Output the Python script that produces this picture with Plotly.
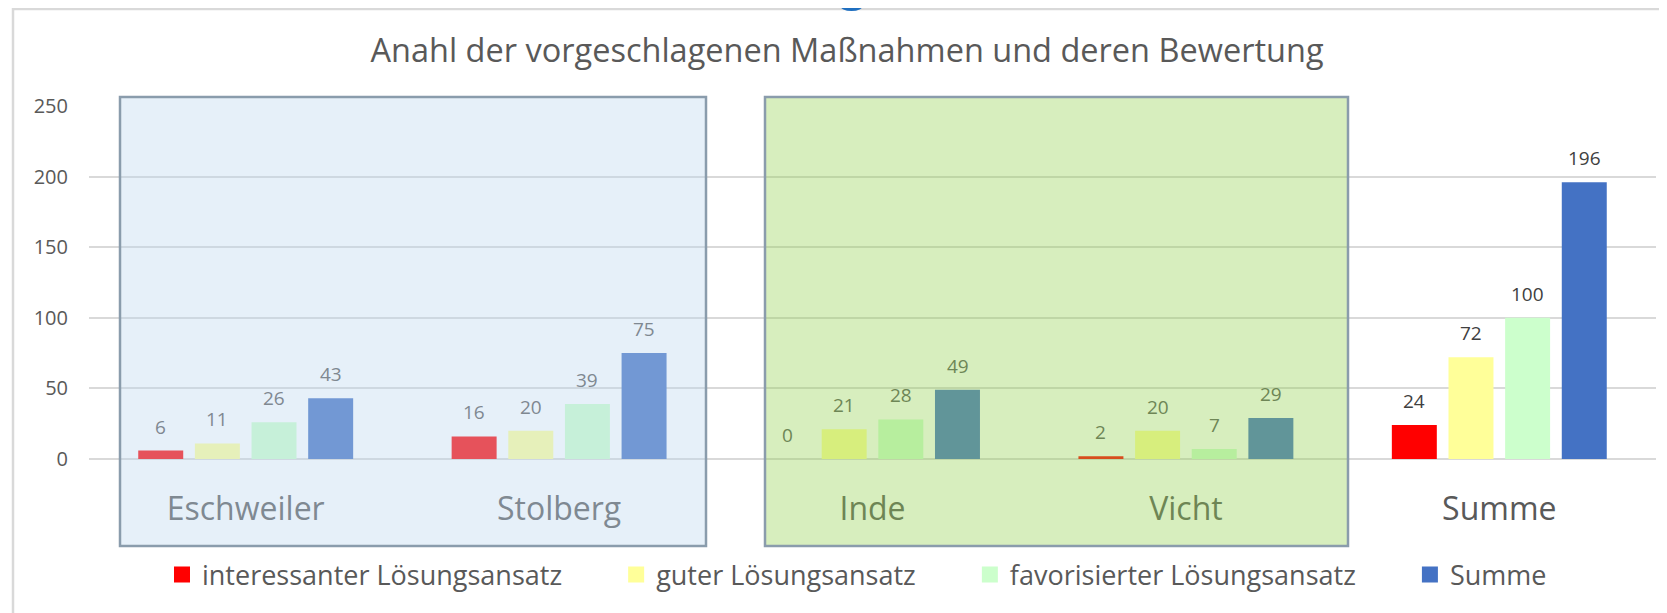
import plotly.graph_objects as go

categories = ["Eschweiler", "Stolberg", "Inde", "Vicht", "Summe"]
interessant = [6, 16, 0, 2, 24]
gut = [11, 20, 21, 20, 72]
favorisiert = [26, 39, 28, 7, 100]
summe = [43, 75, 49, 29, 196]

series_names = ["interessanter Lösungsansatz", "guter Lösungsansatz",
                "favorisierter Lösungsansatz", "Summe"]
series_values = [interessant, gut, favorisiert, summe]
series_colors = ["#FF0000", "#FFFF99", "#CCFFCC", "#4472C4"]

FONT = "Open Sans"
OFF = 8  # page offset of the figure (body margin)
W, H = 1659, 605
L, R, T, B = 81, 11, 98, 154
PW = W - L - R
PH = H - T - B

def px_x(p):
    return (p - OFF - L) / PW

def px_y(p):
    return (H - B - (p - OFF)) / PH

fig = go.Figure()
for name, vals, col in zip(series_names, series_values, series_colors):
    fig.add_trace(go.Bar(x=categories, y=vals, name=name, marker_color=col,
                         marker_line_width=0, hoverinfo="x+y", showlegend=False))
# legend entries with larger swatches
pads = [7, 7, 7, 0]
for name, col, pad in zip(series_names, series_colors, pads):
    fig.add_trace(go.Scatter(x=[None], y=[None], mode="markers",
                             name=name + "\u00a0" * pad,
                             marker=dict(symbol="square", size=16, color=col),
                             hoverinfo="skip"))

# data labels (tinted manually where boxes overlay them)
slot = 56.7
label_colors = {0: "#7F8891", 1: "#7F8891", 2: "#6E8656", 3: "#6E8656", 4: "#404040"}
for k, vals in enumerate(series_values):
    for i, v in enumerate(vals):
        fig.add_annotation(x=categories[i], y=v, xref="x", yref="y",
                           text=str(v), showarrow=False,
                           xshift=(k - 1.5) * slot, yshift=24, yanchor="middle",
                           font=dict(family=FONT, size=19, color=label_colors[i]))

# overlay boxes
fig.add_shape(type="rect", xref="paper", yref="paper",
              x0=px_x(120), x1=px_x(706), y0=px_y(546), y1=px_y(97),
              fillcolor="rgba(189,215,238,0.38)", line=dict(color="#8A9CAC", width=2.5),
              layer="above")
fig.add_shape(type="rect", xref="paper", yref="paper",
              x0=px_x(765), x1=px_x(1348), y0=px_y(546), y1=px_y(97),
              fillcolor="rgba(146,208,80,0.37)", line=dict(color="#8A9CAC", width=2.5),
              layer="above")
# outer chart border
fig.add_shape(type="rect", xref="paper", yref="paper",
              x0=px_x(13), x1=px_x(1690), y0=px_y(640), y1=px_y(9),
              fillcolor="rgba(0,0,0,0)", line=dict(color="#D9D9D9", width=2.5),
              layer="below")
# cut-off blue glyph from a heading above the chart
fig.add_shape(type="circle", xref="paper", yref="paper",
              x0=px_x(840), x1=px_x(863), y0=px_y(11), y1=px_y(0),
              fillcolor="#1F6FC0", line=dict(width=0), layer="above")

fig.update_layout(
    width=W, height=H,
    margin=dict(l=L, r=R, t=T, b=B, autoexpand=False),
    paper_bgcolor="white", plot_bgcolor="white",
    barmode="group", bargap=0.277, bargroupgap=0.206,
    font=dict(family=FONT, color="#595959"),
    title=dict(text="Anahl der vorgeschlagenen Maßnahmen und deren Bewertung",
               x=px_x(847), xref="paper", xanchor="center",
               y=1 - (51 - OFF) / H, yanchor="middle",
               font=dict(family=FONT, size=32.5, color="#595959")),
    legend=dict(orientation="h", x=px_x(857), xanchor="center",
                y=px_y(575), yanchor="middle",
                font=dict(family=FONT, size=27, color="#595959"),
                itemwidth=30),
    showlegend=True,
)
fig.update_xaxes(showgrid=False, showline=False, ticks="",
                 tickfont=dict(family=FONT, size=32, color="#595959"),
                 ticklabelstandoff=28)
fig.update_yaxes(range=[0, 250], dtick=50, showgrid=True, gridcolor="#D9D9D9",
                 gridwidth=2, zeroline=True, zerolinecolor="#D9D9D9", zerolinewidth=2,
                 showline=False, ticks="",
                 tickfont=dict(family=FONT, size=20, color="#595959"),
                 ticklabelstandoff=20)

fig.write_html("out.html")
